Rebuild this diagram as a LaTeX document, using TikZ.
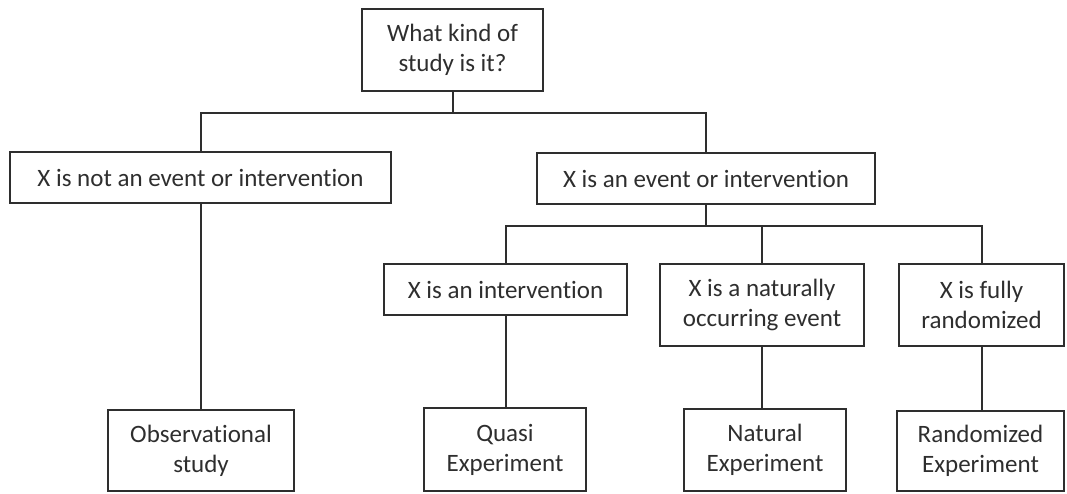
\documentclass[tikz,border=0pt]{standalone}
\usepackage{fontspec}
\setmainfont{Carlito}[Ligatures={NoCommon}]
\definecolor{ink}{HTML}{2E2E2E}
\begin{document}
\begin{tikzpicture}[x=1pt,y=-1pt,
  box/.style={draw=ink, line width=2pt, text=ink, align=center, inner sep=0pt,
    font=\fontsize{25}{30}\selectfont},
  link/.style={draw=ink, line width=2pt}]
\useasboundingbox (0,0) rectangle (1067,493);
\node[box, minimum width=181pt, minimum height=82pt] (top) at (452.5,50) {What kind of\\study is it?};
\node[box, minimum width=381pt, minimum height=51pt] (left) at (200.5,177.5) {X is not an event or intervention};
\node[box, minimum width=338pt, minimum height=51pt] (right) at (706,178.5) {X is an event or intervention};
\node[box, minimum width=243pt, minimum height=51pt] (interv) at (505.5,289.5) {X is an intervention};
\node[box, minimum width=204pt, minimum height=82pt] (natur) at (762,305) {X is a naturally\\occurring event};
\node[box, minimum width=165pt, minimum height=82pt] (fully) at (981.5,305) {X is fully\\randomized};
\node[box, minimum width=186pt, minimum height=81pt] (obs) at (201,450.5) {Observational\\study};
\node[box, minimum width=162pt, minimum height=83pt] (quasi) at (505,449.5) {Quasi\\Experiment};
\node[box, minimum width=162pt, minimum height=82pt] (nat) at (765,450) {Natural\\Experiment};
\node[box, minimum width=167pt, minimum height=80pt] (rand) at (980.5,451) {Randomized\\Experiment};
\coordinate (j1) at (452.5,113);
\coordinate (j2) at (706,226);
\draw[link] (top.south) -- (j1);
\draw[link] (left.north) |- (j1) -| (right.north);
\draw[link] (right.south) -- (j2);
\draw[link] (interv.north) |- (j2) -| (fully.north);
\draw[link] (natur.north) -- (natur.north |- j2);
\draw[link] (left.south) -- (left.south |- obs.north);
\draw[link] (interv.south) -- (interv.south |- quasi.north);
\draw[link] (natur.south) -- (natur.south |- nat.north);
\draw[link] (fully.south) -- (fully.south |- rand.north);
\end{tikzpicture}
\end{document}
